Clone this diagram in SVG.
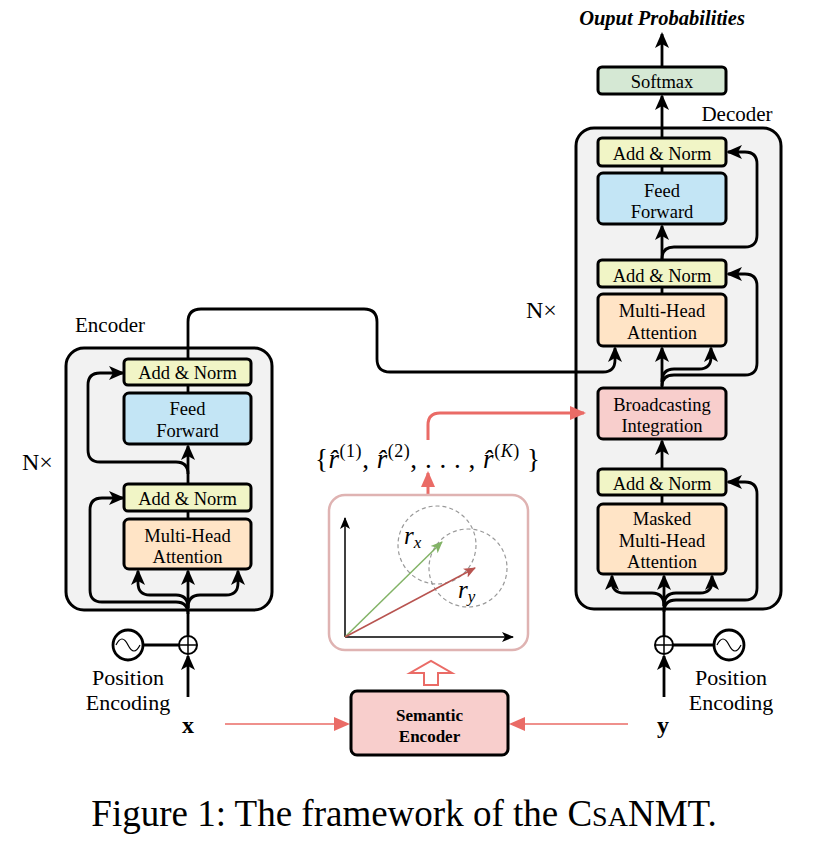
<svg xmlns="http://www.w3.org/2000/svg" width="814" height="851" viewBox="0 0 814 851" font-family="'Liberation Serif','Times New Roman',serif">
<defs>
<marker id="ah" markerUnits="userSpaceOnUse" markerWidth="16" markerHeight="16" viewBox="0 0 16 16" refX="14" refY="8" orient="auto">
<path d="M0,1 L16,8 L0,15 L4,8 z" fill="#000"/>
</marker>
<marker id="ahr" markerUnits="userSpaceOnUse" markerWidth="16" markerHeight="16" viewBox="0 0 16 16" refX="14" refY="8" orient="auto">
<path d="M0,1 L16,8 L0,15 z" fill="#ea6b66"/>
</marker>
<marker id="ahk" markerUnits="userSpaceOnUse" markerWidth="12" markerHeight="12" viewBox="0 0 12 12" refX="11" refY="6" orient="auto">
<path d="M0,1 L12,6 L0,11 L3,6 z" fill="#000"/>
</marker>
<marker id="ahg" markerUnits="userSpaceOnUse" markerWidth="12" markerHeight="12" viewBox="0 0 12 12" refX="11" refY="6" orient="auto">
<path d="M0,1 L12,6 L0,11 L3,6 z" fill="#82b366"/>
</marker>
<marker id="ahb" markerUnits="userSpaceOnUse" markerWidth="12" markerHeight="12" viewBox="0 0 12 12" refX="11" refY="6" orient="auto">
<path d="M0,1 L12,6 L0,11 L3,6 z" fill="#b85450"/>
</marker>
</defs>
<style>
text{font-family:"Liberation Serif","Times New Roman",serif;fill:#000}
.box{stroke:#000;stroke-width:3}
.cont{fill:#f2f2f2;stroke:#000;stroke-width:3}
.an{fill:#f1f5c6}
.ff{fill:#c3e5f5}
.mh{fill:#ffe4c6}
.bi{fill:#f8cecc}
.sm{fill:#d5e8d4}
.t{font-size:18.5px;text-anchor:middle}
.lb{font-size:21px;text-anchor:middle}
.pe{font-size:22px;text-anchor:middle}
.c{fill:none;stroke:#000;stroke-width:2.8}
.a{marker-end:url(#ah)}
.r{fill:none;stroke:#ea6b66;stroke-width:3}
.rt{fill:none;stroke:#ea6b66;stroke-width:1.5}
</style>

<g id="encoder">
<rect class="cont" x="66" y="348" width="206" height="262" rx="18"/>
<text class="lb" x="110" y="332">Encoder</text>
<text x="22" y="470" font-size="24">N×</text>
</g>
<g id="decoder">
<rect class="cont" x="576" y="128" width="205" height="481" rx="18"/>
<text class="lb" x="737" y="121">Decoder</text>
<text x="526" y="318" font-size="24">N×</text>
</g>

<g id="connectors">
<path class="c a" d="M188,697 L188,656"/>
<path class="c a" d="M188,636 L188,571"/>
<path class="c a" d="M188,608 Q188,595 176,595 L150,595 Q138,595 138,583 L138,571"/>
<path class="c a" d="M188,608 Q188,595 200,595 L226,595 Q238,595 238,583 L238,571"/>
<path class="c a" d="M188,614 Q188,602 176,602 L102,602 Q90,602 90,590 L90,510 Q90,498 102,498 L123,498"/>
<path class="c" d="M188,519 L188,511"/>
<path class="c a" d="M188,484 L188,446"/>
<path class="c a" d="M188,474 Q188,462 176,462 L100,462 Q88,462 88,450 L88,385 Q88,373 100,373 L123,373"/>
<path class="c" d="M188,393 L188,385"/>
<path class="c a" d="M188,359 L188,322 Q188,309 201,309 L364,309 Q377,309 377,322 L377,359 Q377,372 390,372 L603,372 Q615,372 615,360 L615,348"/>
<line class="c" x1="143" y1="645" x2="179" y2="645"/>
<path class="c a" d="M664,697 L664,656"/>
<line class="c" x1="673" y1="645" x2="714" y2="645"/>
<path class="c a" d="M664,636 L664,576"/>
<path class="c a" d="M664,606 Q664,593 652,593 L624,593 Q612,593 612,581 L612,576"/>
<path class="c a" d="M664,606 Q664,593 676,593 L700,593 Q712,593 712,581 L712,576"/>
<path class="c a" d="M664,612 Q664,600 676,600 L745,600 Q757,600 757,588 L757,494 Q757,482 745,482 L728,482"/>
<path class="c" d="M662,504 L662,495"/>
<path class="c a" d="M662,469 L662,441"/>
<path class="c a" d="M662,388 L662,348"/>
<path class="c a" d="M662,386 Q662,375 674,375 L745,375 Q757,375 757,363 L757,286 Q757,274 745,274 L728,274"/>
<path class="c a" d="M662,382 Q662,369 674,369 L699,369 Q711,369 711,357 L711,348"/>
<path class="c" d="M662,294 L662,287"/>
<path class="c a" d="M662,260 L662,226"/>
<path class="c a" d="M662,259 Q662,247 674,247 L745,247 Q757,247 757,235 L757,164 Q757,152 745,152 L728,152"/>
<path class="c" d="M662,173 L662,166"/>
<path class="c a" d="M662,138 L662,96"/>
<path class="c a" d="M662,67 L662,34"/>
<path class="r" d="M428,440 L428,425 Q428,413 440,413 L584,413" marker-end="url(#ahr)"/>
<path class="r" d="M428,495 L428,473" marker-end="url(#ahr)"/>
<path class="rt" d="M225,724 L348,724" marker-end="url(#ahr)"/>
<path class="rt" d="M628,724 L511,724" marker-end="url(#ahr)"/>
<polygon points="424,685 424,673 410,673 431,661 452,673 438,673 438,685" fill="#fff" stroke="#ea6b66" stroke-width="2"/>
</g>

<g id="enc-addnorm1"><rect class="box an" x="124" y="359" width="127" height="26" rx="4"/><text class="t" x="187.5" y="379">Add &amp; Norm</text></g>
<g id="enc-ff"><rect class="box ff" x="124" y="393" width="127" height="51" rx="5"/><text class="t" x="187.5" y="415">Feed</text><text class="t" x="187.5" y="437">Forward</text></g>
<g id="enc-addnorm2"><rect class="box an" x="124" y="484" width="127" height="27" rx="4"/><text class="t" x="187.5" y="505">Add &amp; Norm</text></g>
<g id="enc-mha"><rect class="box mh" x="124" y="519" width="127" height="50" rx="5"/><text class="t" x="187.5" y="542">Multi-Head</text><text class="t" x="187.5" y="563">Attention</text></g>

<g id="dec-softmax"><rect class="box sm" x="598" y="67" width="128" height="27" rx="4"/><text class="t" x="662" y="88">Softmax</text></g>
<g id="dec-addnorm1"><rect class="box an" x="598" y="138" width="128" height="28" rx="4"/><text class="t" x="662" y="160">Add &amp; Norm</text></g>
<g id="dec-ff"><rect class="box ff" x="598" y="173" width="128" height="51" rx="5"/><text class="t" x="662" y="197">Feed</text><text class="t" x="662" y="218">Forward</text></g>
<g id="dec-addnorm2"><rect class="box an" x="598" y="260" width="128" height="27" rx="4"/><text class="t" x="662" y="282">Add &amp; Norm</text></g>
<g id="dec-mha"><rect class="box mh" x="598" y="294" width="128" height="52" rx="5"/><text class="t" x="662" y="317">Multi-Head</text><text class="t" x="662" y="339">Attention</text></g>
<g id="dec-broadcast"><rect class="box bi" x="598" y="388" width="128" height="51" rx="5"/><text class="t" x="662" y="411">Broadcasting</text><text class="t" x="662" y="432">Integration</text></g>
<g id="dec-addnorm3"><rect class="box an" x="598" y="469" width="128" height="26" rx="4"/><text class="t" x="662" y="490">Add &amp; Norm</text></g>
<g id="dec-masked"><rect class="box mh" x="598" y="504" width="128" height="70" rx="5"/><text class="t" x="662" y="525">Masked</text><text class="t" x="662" y="547">Multi-Head</text><text class="t" x="662" y="568">Attention</text></g>

<g id="output-label"><text x="662" y="25" font-size="20.5" font-weight="bold" font-style="italic" text-anchor="middle">Ouput Probabilities</text></g>

<g id="enc-posenc">
<circle cx="128" cy="645" r="15" fill="#fff" stroke="#000" stroke-width="2.8"/>
<path d="M116,645 Q122,633 128,645 T140,645" fill="none" stroke="#000" stroke-width="1.2"/>
<circle cx="188" cy="645" r="9" fill="#fff" stroke="#000" stroke-width="2"/>
<path d="M179,645 L197,645 M188,636 L188,654" stroke="#000" stroke-width="1.5"/>
<text class="pe" x="128" y="685">Position</text>
<text class="pe" x="128" y="710">Encoding</text>
<text x="188" y="733" font-size="24" font-weight="bold" text-anchor="middle">x</text>
</g>
<g id="dec-posenc">
<circle cx="729" cy="645" r="15" fill="#fff" stroke="#000" stroke-width="2.8"/>
<path d="M717,645 Q723,633 729,645 T741,645" fill="none" stroke="#000" stroke-width="1.2"/>
<circle cx="664" cy="645" r="9" fill="#fff" stroke="#000" stroke-width="2"/>
<path d="M655,645 L673,645 M664,636 L664,654" stroke="#000" stroke-width="1.5"/>
<text class="pe" x="731" y="685">Position</text>
<text class="pe" x="731" y="710">Encoding</text>
<text x="663" y="733" font-size="24" font-weight="bold" text-anchor="middle">y</text>
</g>

<g id="semantic-encoder"><rect x="351" y="691" width="157" height="64" rx="6" fill="#f8cecc" stroke="#000" stroke-width="3"/><text x="429.5" y="721" font-size="17" font-weight="bold" text-anchor="middle">Semantic</text><text x="429.5" y="742" font-size="17" font-weight="bold" text-anchor="middle">Encoder</text></g>

<g id="vector-space">
<rect x="329" y="495" width="199" height="155" rx="16" fill="#fff" stroke="#dfb3b2" stroke-width="2.5"/>
<circle cx="437" cy="545" r="39" fill="none" stroke="#999" stroke-width="1.2" stroke-dasharray="4 3"/>
<circle cx="468" cy="568" r="39" fill="none" stroke="#999" stroke-width="1.2" stroke-dasharray="4 3"/>
<path d="M345,637 L345,518" stroke="#000" stroke-width="1.5" marker-end="url(#ahk)"/>
<path d="M345,637 L513,637" stroke="#000" stroke-width="1.5" marker-end="url(#ahk)"/>
<path d="M345,637 L442,542" stroke="#82b366" stroke-width="1.5" marker-end="url(#ahg)"/>
<path d="M345,637 L475,568" stroke="#b85450" stroke-width="1.5" marker-end="url(#ahb)"/>
<text x="404" y="544" font-size="25" font-style="italic">r<tspan font-size="17" dy="4">x</tspan></text>
<text x="458" y="598" font-size="25" font-style="italic">r<tspan font-size="17" dy="4">y</tspan></text>
</g>

<g id="set-label">
<text x="315" y="468" font-size="27" textLength="225" lengthAdjust="spacing">{<tspan font-style="italic">r̂</tspan><tspan font-size="18" dy="-11">(1)</tspan><tspan dy="11">, </tspan><tspan font-style="italic">r̂</tspan><tspan font-size="18" dy="-11">(2)</tspan><tspan dy="11">, . . . , </tspan><tspan font-style="italic">r̂</tspan><tspan font-size="18" dy="-11">(<tspan font-style="italic">K</tspan>)</tspan><tspan dy="11"> }</tspan></text>
</g>

<g id="caption">
<text x="404" y="826" font-size="37" text-anchor="middle">Figure 1: The framework of the C<tspan font-size="28">SA</tspan>NMT.</text>
</g>
</svg>
